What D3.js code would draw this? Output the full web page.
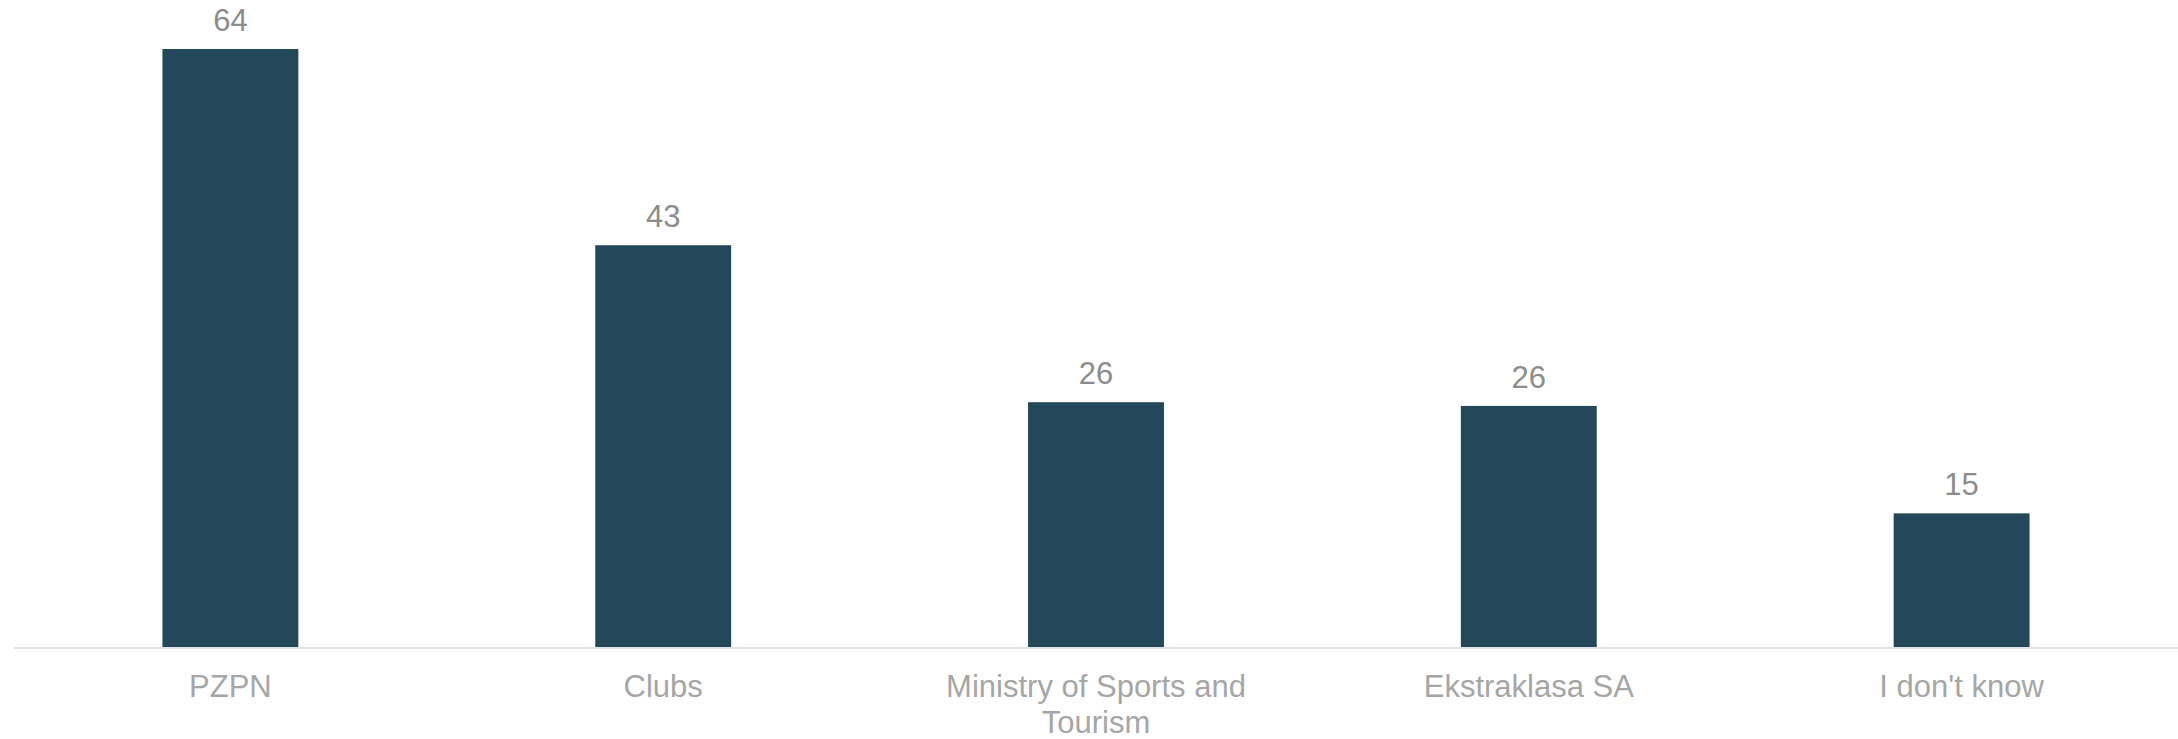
<!DOCTYPE html>
<html>
<head>
<meta charset="utf-8">
<script src="https://cdn.jsdelivr.net/npm/d3@7"></script>
<style>
  html, body { margin: 0; padding: 0; background: #fff; }
  svg { display: block; }
  text { font-family: Arial, "Liberation Sans", sans-serif; }
</style>
</head>
<body>
<svg id="chart" width="2178" height="739"></svg>
<script>
const categories = ["PZPN", "Clubs", "Ministry of Sports and Tourism", "Ekstraklasa SA", "I don't know"];
const values = [64, 43, 26.2, 25.8, 14.3];
const valueLabels = ["64", "43", "26", "26", "15"];

const W = 2178, H = 739;
const svg = d3.select("#chart");

const x = d3.scaleBand()
  .domain(categories)
  .range([14, W])
  .paddingInner(0.686)
  .paddingOuter(0.343);

const y = d3.scaleLinear()
  .domain([0, 64])
  .range([647, 49]);

// bars
svg.append("g").selectAll("rect")
  .data(categories)
  .join("rect")
  .attr("x", d => x(d))
  .attr("width", x.bandwidth())
  .attr("y", (d, i) => y(values[i]))
  .attr("height", (d, i) => y(0) - y(values[i]))
  .attr("fill", "#234859");

// value labels
svg.append("g").selectAll("text")
  .data(categories)
  .join("text")
  .attr("x", d => x(d) + x.bandwidth() / 2)
  .attr("y", (d, i) => y(values[i]) - 18)
  .attr("text-anchor", "middle")
  .attr("font-size", 31)
  .attr("fill", "#8c8c8c")
  .text((d, i) => valueLabels[i]);

// x axis
const axis = svg.append("g")
  .attr("transform", `translate(0,${y(0) + 1})`)
  .call(d3.axisBottom(x).tickSize(0).tickPadding(0));
axis.select(".domain").attr("stroke", "#e3e3e3").attr("stroke-width", 2)
  .attr("d", `M14,0H${W}`);

function wrap(sel, width) {
  sel.each(function() {
    const t = d3.select(this);
    const words = t.text().split(/\s+/);
    t.text(null);
    let line = [];
    let lineNo = 0;
    let tspan = t.append("tspan").attr("x", 0).attr("dy", 0);
    for (const w of words) {
      line.push(w);
      tspan.text(line.join(" "));
      if (tspan.node().getComputedTextLength() > width && line.length > 1) {
        line.pop();
        tspan.text(line.join(" "));
        line = [w];
        lineNo++;
        tspan = t.append("tspan").attr("x", 0).attr("dy", 36).text(w);
      }
    }
  });
}

axis.selectAll(".tick text")
  .attr("font-size", 31)
  .attr("font-family", "Arial, 'Liberation Sans', sans-serif")
  .attr("fill", "#a6a6a6")
  .attr("dy", null)
  .attr("y", 49)
  .call(wrap, 400);
</script>
</body>
</html>
